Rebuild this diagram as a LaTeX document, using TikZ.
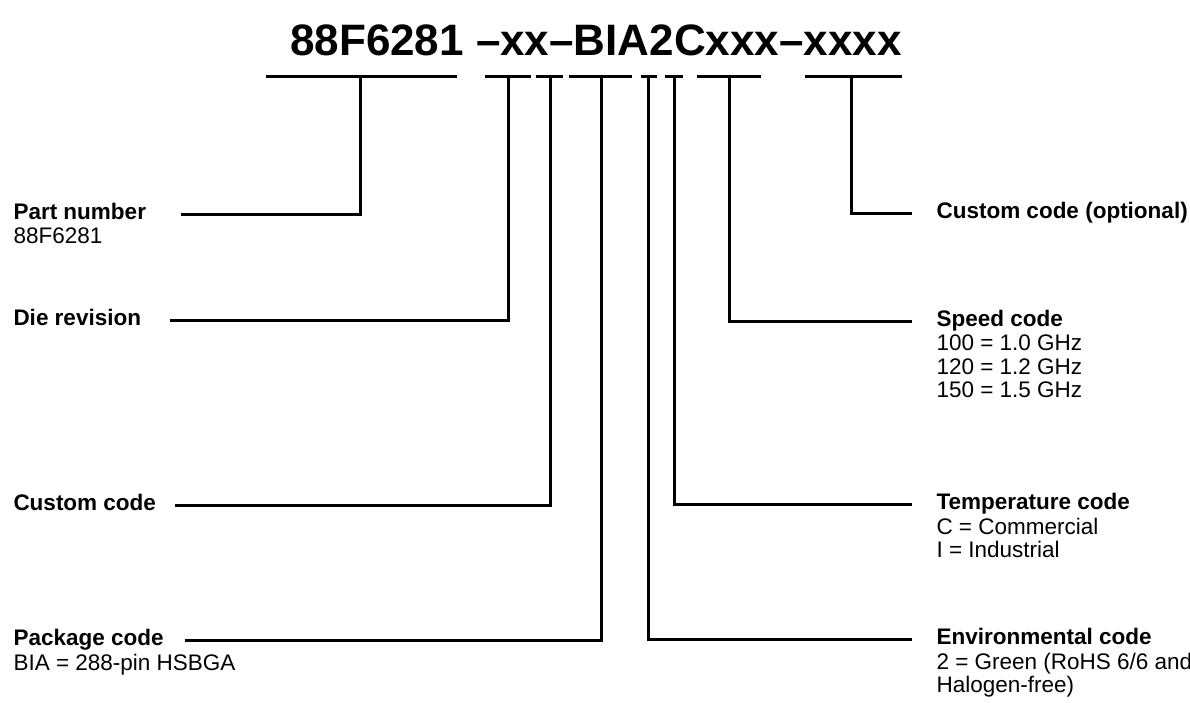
\documentclass[tikz,border=0pt]{standalone}
\usepackage{fontspec}
\setmainfont{Liberation Sans}
\usepackage{tikz}

\begin{document}
\begin{tikzpicture}[x=1pt,y=-1pt,line width=3pt,
  hdr/.style={anchor=base west,inner sep=0pt,font=\fontsize{22.5}{23.5}\selectfont\bfseries},
  desc/.style={anchor=north west,inner sep=0pt,align=left,font=\fontsize{22.5}{23.5}\selectfont}]
\useasboundingbox (0,0) rectangle (1190,702);
\node[inner sep=0pt,anchor=base,font=\fontsize{44}{48}\selectfont\bfseries] (title) at (596,55) {88F6281 --xx--BIA2Cxxx--xxxx};
\foreach \a/\b in {266/457,485/531,536/563,569/632,641/657,665/683,697/761,805/902}
  \draw (\a,76) -- (\b,76);
\coordinate (cPart) at (360,76);
\coordinate (cRev) at (508,76);
\coordinate (cCust) at (550,76);
\coordinate (cPkg) at (601,76);
\coordinate (cEnv) at (648,76);
\coordinate (cTemp) at (674,76);
\coordinate (cSpeed) at (729,76);
\coordinate (cOpt) at (851,76);
\node[hdr] (part) at (12,219) {Part number};
\node[desc] (partd) at ([yshift=-7.4pt]part.base west) {88F6281};
\node[hdr] (rev) at (12,325) {Die revision};
\node[hdr] (cust) at (12,510) {Custom code};
\node[hdr] (pkg) at (12,645) {Package code};
\node[desc] (pkgd) at ([yshift=-7.4pt]pkg.base west) {BIA = 288-pin HSBGA};
\node[hdr] (opt) at (935,218) {Custom code (optional)};
\node[hdr] (speed) at (935,326) {Speed code};
\node[desc] (speedd) at ([yshift=-7.4pt]speed.base west) {100 = 1.0 GHz\\120 = 1.2 GHz\\150 = 1.5 GHz};
\node[hdr] (temp) at (935,509) {Temperature code};
\node[desc] (tempd) at ([yshift=-7.4pt]temp.base west) {C = Commercial\\I = Industrial};
\node[hdr] (env) at (935,644) {Environmental code};
\node[desc] (envd) at ([yshift=-7.4pt]env.base west) {2 = Green (RoHS 6/6 and\\Halogen-free)};
\draw ([xshift=33pt,yshift=5pt]part.base east) -| (cPart);
\draw ([xshift=27pt,yshift=5pt]rev.base east) -| (cRev);
\draw ([xshift=17pt,yshift=5pt]cust.base east) -| (cCust);
\draw ([xshift=20pt,yshift=5pt]pkg.base east) -| (cPkg);
\draw ([xshift=-23pt,yshift=5pt]opt.base west) -| (cOpt);
\draw ([xshift=-23pt,yshift=5pt]speed.base west) -| (cSpeed);
\draw ([xshift=-23pt,yshift=5pt]temp.base west) -| (cTemp);
\draw ([xshift=-23pt,yshift=5pt]env.base west) -| (cEnv);
\end{tikzpicture}
\end{document}
